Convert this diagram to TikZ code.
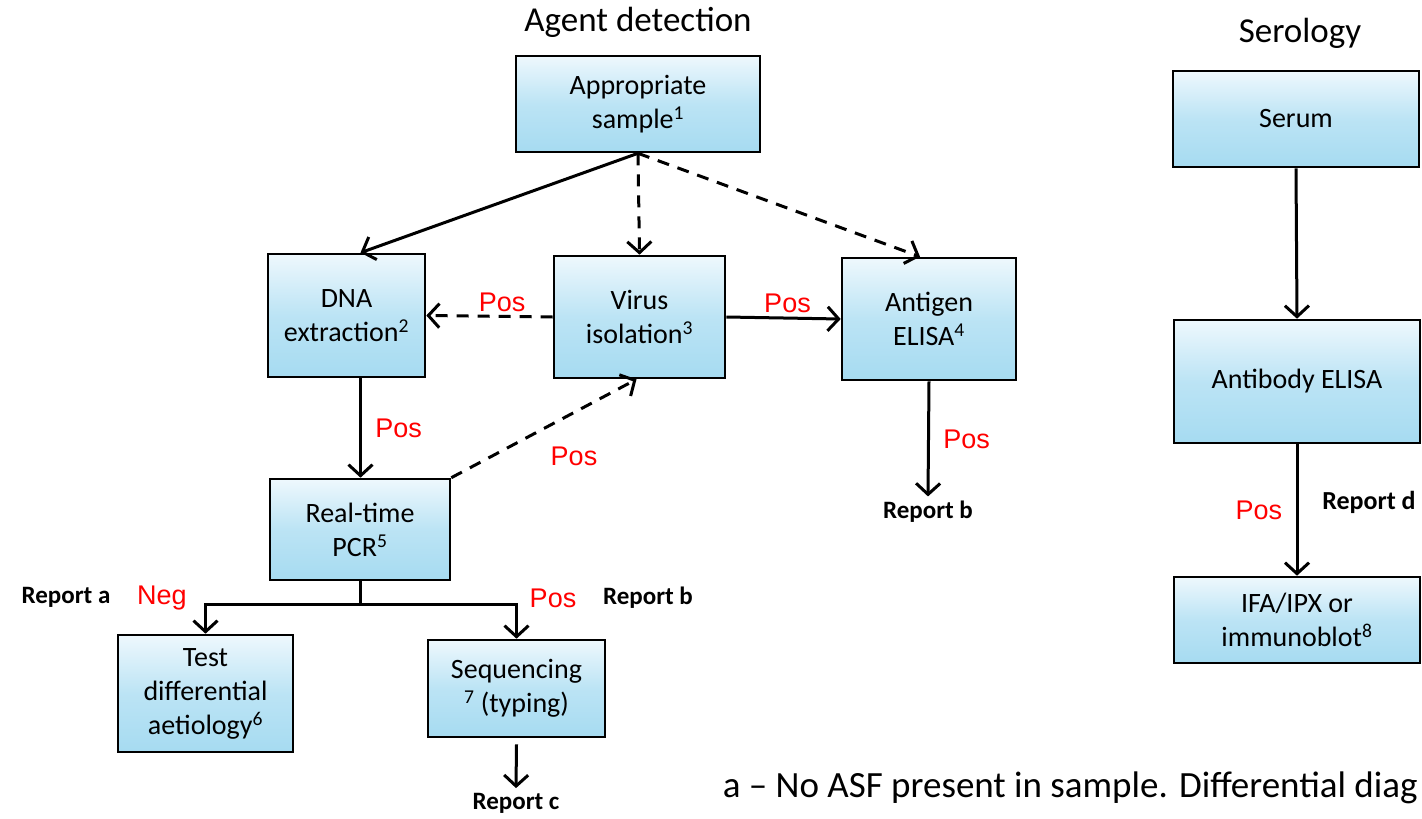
\documentclass[tikz,border=0pt]{standalone}
\usepackage{fontspec}
\setmainfont{Carlito}
\newfontfamily\arialfont{Liberation Sans}
\usepackage{tikz}
\usetikzlibrary{arrows.meta,positioning,calc}

\definecolor{boxtop}{HTML}{EEF8FD}
\definecolor{boxbot}{HTML}{A6DBF1}

\begin{document}
\begin{tikzpicture}[->,>={Straight Barb[length=11pt,width=24pt]},line width=3pt,
                    x=1pt,y=-1pt]
  \tikzstyle{box}=[draw,line width=2.6pt,top color=boxtop,bottom color=boxbot,middle color=boxbot!70!boxtop,
                   align=center,inner sep=0pt,font=\fontsize{28}{34}\selectfont]
  \tikzstyle{serobox}=[box,font=\fontsize{28}{34}\selectfont]
  \tikzstyle{poslabel}=[text=red,font=\arialfont\fontsize{27}{28}\selectfont]
  \tikzstyle{report}=[font=\bfseries\fontsize{25}{28}\selectfont]
  \tikzstyle{heading}=[font=\fontsize{35}{40}\selectfont]

  \clip (0,0) rectangle (1422,819);

  % agent detection
  \node[heading]	(AgTitle)	at (638,22)		{Agent detection};
  \node[box,minimum width=244pt,minimum height=96pt]	(Sample)	at (638,104)	{Appropriate\\sample\textsuperscript{1}};
  \node[box,minimum width=157pt,minimum height=123pt]	(DNA)		at (346.5,315.5)	{DNA\\extraction\textsuperscript{2}};
  \node[box,minimum width=171pt,minimum height=122pt]	(Virus)		at (639.5,317)	{Virus\\isolation\textsuperscript{3}};
  \node[box,minimum width=174pt,minimum height=122pt]	(Antigen)	at (929,319)	{Antigen\\ELISA\textsuperscript{4}};
  \node[box,minimum width=180pt,minimum height=101pt]	(PCR)		at (360,529.5)	{Real-time\\PCR\textsuperscript{5}};
  \node[box,minimum width=175pt,minimum height=117pt]	(Test)		at (205.5,693.5)	{Test\\differential\\aetiology\textsuperscript{6}};
  \node[box,minimum width=177pt,minimum height=97pt]	(Seq)		at (516.5,688.5)	{Sequencing\\\textsuperscript{7} (typing)};

  \node[report]		(RepB1)		at (928,512)	{Report b};
  \node[report]		(RepA)		at (66,597)		{Report a};
  \node[report]		(RepB2)		at (648,598)	{Report b};
  \node[report]		(RepC)		at (516,803)	{Report c};
  \node[poslabel]	(Neg)		at (162,598)	{Neg};
  \node[poslabel]	(PosSeq)	at (553,598)	{Pos};
  \coordinate		(split)		at (360,604);

  \path (Sample.south) edge				([xshift=14pt]DNA.north);
  \path (Sample.south) edge	[dashed,dash pattern=on 12pt off 9pt]	(Virus.north);
  \path (Sample.south) edge	[dashed,dash pattern=on 12pt off 9pt]	([xshift=-9pt]Antigen.north);
  \path (Virus.west) edge	[dashed,dash pattern=on 12pt off 9pt]	node[poslabel,above,pos=0.4] {Pos}	(DNA.east);
  \path (Virus.east) edge			node[poslabel,above,xshift=4pt] {Pos}	(Antigen.west);
  \path ([xshift=14pt]DNA.south) edge	node[poslabel,right=10pt] {Pos}	([xshift=14pt]DNA.south |- PCR.north);
  \path (PCR.north east) edge	[dashed,dash pattern=on 12pt off 9pt]	node[poslabel,below right=14pt and 2pt] {Pos}	([xshift=-3pt]Virus.south);
  \path (Antigen.south) edge		node[poslabel,right=10pt] {Pos}	(RepB1.north);
  \draw[-] (PCR.south) -- (split);
  \draw (split) -| (Test.north);
  \draw (split) -| (Seq.north);
  \draw ([yshift=-6pt]Seq.south) -- (RepC.north);

  % serology
  \node[heading]	(SeroTitle)	at (1300,33)	{Serology};
  \node[serobox,minimum width=246pt,minimum height=96pt]	(Serum)		at (1296,119)	{Serum};
  \node[serobox,minimum width=246pt,minimum height=123pt]	(Antibody)	at (1297,381.5)	{Antibody ELISA};
  \node[serobox,minimum width=246pt,minimum height=86pt]	(IFA)		at (1297,620)	{IFA/IPX or\\immunoblot\textsuperscript{8}};
  \node[report,font=\bfseries\fontsize{26}{30}\selectfont]	(RepD)	at (1369,502)	{Report d};

  \path (Serum.south) edge		(Antibody.north);
  \path (Antibody.south) edge	node[poslabel,left=10pt] {Pos}	(IFA.north);

  % footnote
  \node[anchor=base west,font=\fontsize{37}{42}\selectfont]	(Note)	at (718,797)	{a -- No ASF present in sample. Differential diag};

\end{tikzpicture}
\end{document}
